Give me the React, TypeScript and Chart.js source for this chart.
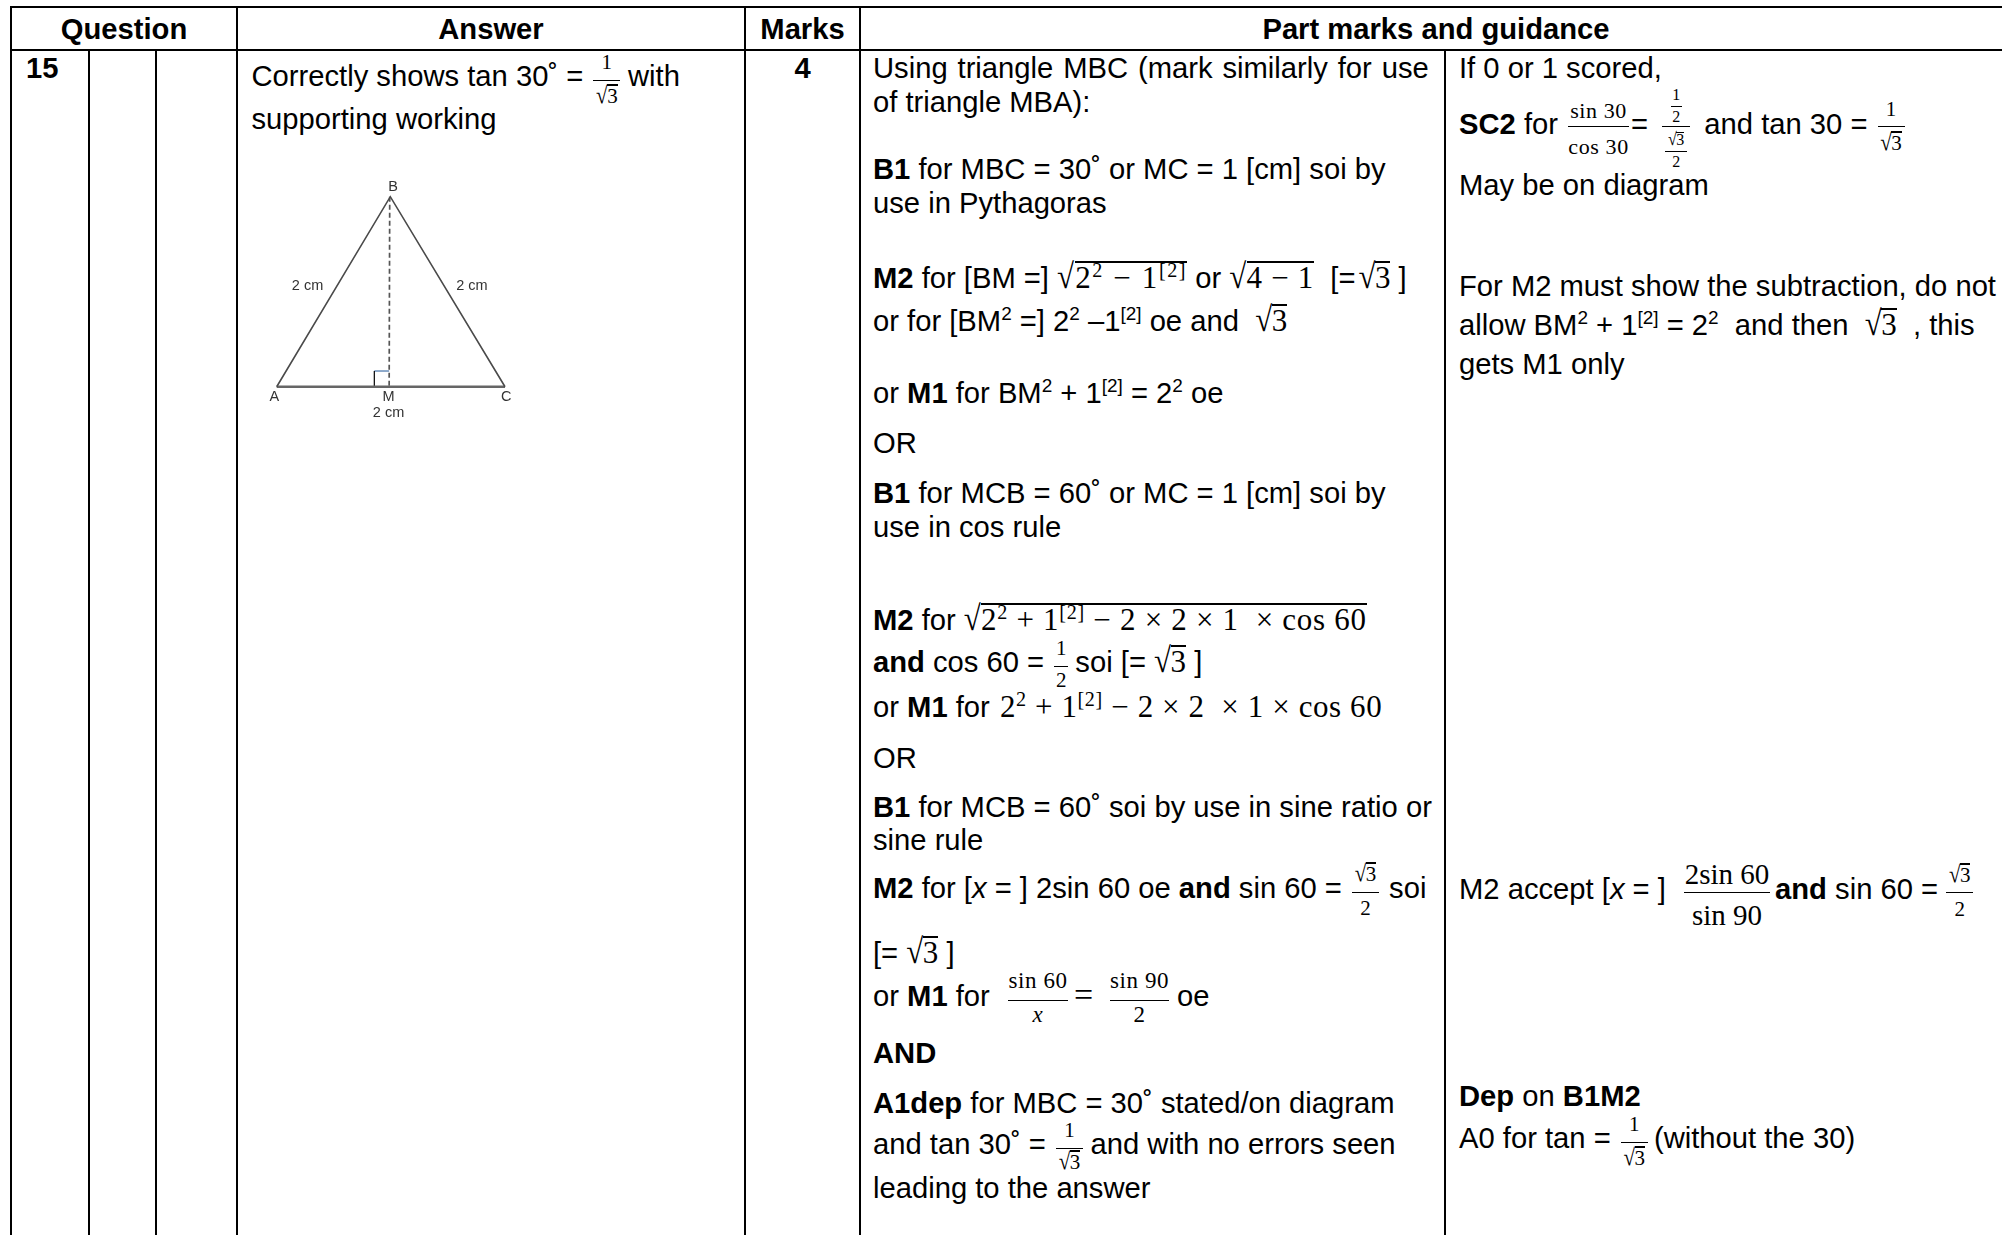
import React, { useEffect, useRef } from "react";
import { Chart, registerables } from "chart.js";
Chart.register(...registerables);

// Triangle diagram data, in centimetres along the base and in height units
const sideX = [0, 0.995, 2];
const sideY = [0, 1.73, 0];
const baseX = [0, 2];
const baseY = [0, 0];
const altitudeX = [0.99, 0.985];
const altitudeY = [1.73, 0];
const markUpX = [0.855, 0.855];
const markUpY = [0, 0.143];
const markTopX = [0.855, 0.985];
const markTopY = [0.143, 0.143];
const pointNames = ["B", "2 cm", "2 cm", "A", "M", "C", "2 cm"];
const pointNameX = [1.02, 0.27, 1.71, -0.02, 0.98, 2.01, 0.98];
const pointNameY = [1.82, 0.92, 0.92, -0.09, -0.09, -0.09, -0.24];

const headers = ["Question", "Answer", "Marks", "Part marks and guidance"];
const headerEdges = [11, 237, 745, 860, 2012];
const columnRules = [11, 89, 156, 237, 745, 860, 1445];

const FONT = "'Liberation Sans', Arial, sans-serif";
const MATH = "'Liberation Serif', serif";
const FS = 29.2;
const TOP = 1 - 0.3465 * FS;

const pts = (xs: number[], ys: number[]) => xs.map((x, i) => ({ x, y: ys[i] }));

const L = ({ x, y, ws = 0, children }: any) => (
  <div style={{ position: "absolute", left: x, top: y + TOP, lineHeight: 0, whiteSpace: "pre", fontSize: FS, wordSpacing: ws }}>{children}</div>
);
const B = ({ children }: any) => <b>{children}</b>;
const Up = ({ children, s = 0.65, r = 0.36 }: any) => (
  <span style={{ fontSize: `${s}em`, position: "relative", top: `${-r / s}em` }}>{children}</span>
);
const M = ({ children, s = 31, ls = 0.6, ml = 0 }: any) => <span style={{ fontFamily: MATH, fontSize: s, letterSpacing: ls, marginLeft: ml }}>{children}</span>;
const Sq = ({ children, s = 31, ls = 0, ml = 0, bar }: any) => {
  const barUp = bar ?? s * 0.88;
  return (
    <span style={{ fontFamily: MATH, fontSize: s, letterSpacing: ls, marginLeft: ml }}>
      <span style={{ display: "inline-block", transformOrigin: "50% 0.3375em", transform: "scaleY(1.13)" }}>√</span>
      <span style={{ display: "inline-block", position: "relative", marginLeft: -0.5 }}>
        <span style={{ position: "absolute", left: 0, right: 0, top: 0.3375 * s - barUp, height: Math.max(1, s / 18), background: "#000" }} />
        {children}
      </span>
    </span>
  );
};
const At = ({ dy, s, ls = 0, children }: any) => (
  <span style={{ position: "absolute", left: -20, right: -20, textAlign: "center", top: dy - 0.3375 * s, fontSize: s, lineHeight: 0, fontFamily: MATH, whiteSpace: "pre", letterSpacing: ls }}>{children}</span>
);
const Fr = ({ n, d, w = 27, s = 21, axis = 6, nDy = -17, dDy = 17, mx = 2, mr, h = 1.6, ls = 0 }: any) => (
  <span style={{ display: "inline-block", position: "relative", width: w, height: 0, marginLeft: mx, marginRight: mr ?? mx }}>
    <span style={{ position: "absolute", left: 0, right: 0, top: -axis, height: h, background: "#000" }} />
    <At dy={nDy} s={s} ls={ls}>{n}</At>
    <At dy={dDy} s={s} ls={ls}>{d}</At>
  </span>
);
const R3 = ({ s = 21 }: any) => <Sq s={s}>3</Sq>;

function Triangle() {
  const ref = useRef<HTMLCanvasElement>(null);
  useEffect(() => {
    const labelPlugin = {
      id: "pointNames",
      afterDatasetsDraw(chart: any) {
        const { ctx, scales } = chart;
        ctx.save();
        ctx.fillStyle = "#333";
        ctx.font = `14.5px ${FONT}`;
        ctx.textAlign = "center";
        ctx.textBaseline = "middle";
        pointNames.forEach((t, i) => ctx.fillText(t, scales.x.getPixelForValue(pointNameX[i]), scales.y.getPixelForValue(pointNameY[i])));
        ctx.restore();
      },
    };
    const line = (data: any[], color: string, width: number, dash: number[] = []) => ({
      data,
      showLine: true,
      borderColor: color,
      borderWidth: width,
      borderDash: dash,
      pointRadius: 0,
      tension: 0,
    });
    const chart = new Chart(ref.current!, {
      type: "scatter",
      data: {
        datasets: [
          line(pts(sideX, sideY), "#4a4a4a", 1.6),
          line(pts(baseX, baseY), "#666", 2.4),
          line(pts(altitudeX, altitudeY), "#555", 1.7, [5, 3]),
          line(pts(markUpX, markUpY), "#000", 1.2),
          line(pts(markTopX, markTopY), "#4472a8", 1.2),
        ],
      },
      options: {
        animation: false,
        responsive: false,
        events: [],
        layout: { padding: 0 },
        plugins: { legend: { display: false }, tooltip: { enabled: false } },
        scales: {
          x: { type: "linear", display: false, min: -0.234, max: 2.394 },
          y: { type: "linear", display: false, min: -0.394, max: 1.973 },
        },
      },
      plugins: [labelPlugin],
    } as any);
    return () => chart.destroy();
  }, []);
  return <canvas ref={ref} width={300} height={260} style={{ position: "absolute", left: 250, top: 170, width: 300, height: 260 }} />;
}

const LX = 873;
const RX = 1459;

export default function App() {
  return (
    <div style={{ position: "absolute", left: 0, top: 0, width: 2002, height: 1235, overflow: "hidden", background: "#fff", fontFamily: FONT, color: "#000" }}>
      <div style={{ position: "absolute", left: 10, right: 0, top: 6, height: 2, background: "#000" }} />
      <div style={{ position: "absolute", left: 10, right: 0, top: 49, height: 2, background: "#000" }} />
      {columnRules.map((x, i) => (
        <div key={x} style={{ position: "absolute", left: x - 1, width: 2, top: i === 1 || i === 2 || i === 6 ? 50 : 6, bottom: 0, background: "#000" }} />
      ))}
      {headers.map((h, i) => (
        <div key={h} style={{ position: "absolute", left: headerEdges[i], width: headerEdges[i + 1] - headerEdges[i], top: 38 + TOP, lineHeight: 0, textAlign: "center", fontWeight: 700, fontSize: FS }}>{h}</div>
      ))}
      <div style={{ position: "absolute", left: 26, top: 77 + TOP, lineHeight: 0, fontWeight: 700, fontSize: FS }}>15</div>
      <div style={{ position: "absolute", left: 745, width: 115, top: 77 + TOP, lineHeight: 0, textAlign: "center", fontWeight: 700, fontSize: FS }}>4</div>

      <L x={251.5} y={85}>Correctly shows tan 30˚ = <Fr n="1" d={<R3 />} w={27} mr={-0.5} /> with</L>
      <L x={251.5} y={128}>supporting working</L>
      <Triangle />

      <L x={LX} y={77} ws={1.8}>Using triangle MBC (mark similarly for use</L>
      <L x={LX} y={111}>of triangle MBA):</L>
      <L x={LX} y={178}><B>B1</B> for MBC = 30˚ or MC = 1 [cm] soi by</L>
      <L x={LX} y={212}>use in Pythagoras</L>
      <L x={LX} y={287}><B>M2</B> for [BM =] <Sq ls={1.6}>2<Up>2</Up> − 1<Up>[2]</Up></Sq> or <Sq ls={0.7}>4 − 1</Sq>  [=<Sq ml={3}>3</Sq> ]</L>
      <L x={LX} y={330}>or for [BM<Up>2</Up> =] 2<Up>2</Up> –1<Up>[2]</Up> oe and  <Sq>3</Sq></L>
      <L x={LX} y={402}>or <B>M1</B> for BM<Up>2</Up> + 1<Up>[2]</Up> = 2<Up>2</Up> oe</L>
      <L x={LX} y={452}>OR</L>
      <L x={LX} y={502}><B>B1</B> for MCB = 60˚ or MC = 1 [cm] soi by</L>
      <L x={LX} y={536}>use in cos rule</L>
      <L x={LX} y={629}><B>M2</B> for <Sq ls={0.7}>2<Up>2</Up> + 1<Up>[2]</Up> − 2 × 2 × 1  × cos 60</Sq></L>
      <L x={LX} y={671}><B>and</B> cos 60 = <Fr n="1" d="2" w={14} mr={-1} dDy={15} /> soi [= <Sq>3</Sq> ]</L>
      <L x={LX} y={716}>or <B>M1</B> for <M ml={2}>2<Up>2</Up> + 1<Up>[2]</Up> − 2 × 2  × 1 × cos 60</M></L>
      <L x={LX} y={767}>OR</L>
      <L x={LX} y={816}><B>B1</B> for MCB = 60˚ soi by use in sine ratio or</L>
      <L x={LX} y={849}>sine rule</L>
      <L x={LX} y={897}><B>M2</B> for [<i>x</i> = ] 2sin 60 oe <B>and</B> sin 60 = <Fr n={<R3 />} d="2" w={27} /> soi</L>
      <L x={LX} y={962}>[= <Sq>3</Sq> ]</L>
      <L x={LX} y={1004}>or <B>M1</B> for  <Fr n="sin 60" d={<i>x</i>} w={60} s={23} ls={0.6} mr={6} /><M s={34}>=</M>  <Fr n="sin 90" d="2" w={59} s={23} ls={0.6} mx={0} /> oe</L>
      <L x={LX} y={1062}><B>AND</B></L>
      <L x={LX} y={1112}><B>A1dep</B> for MBC = 30˚ stated/on diagram</L>
      <L x={LX} y={1153}>and tan 30˚ = <Fr n="1" d={<R3 />} w={27} mr={-0.5} dDy={15} /> and with no errors seen</L>
      <L x={LX} y={1197}>leading to the answer</L>

      <L x={RX} y={77}>If 0 or 1 scored,</L>
      <L x={RX} y={133}><B>SC2</B> for <Fr n="sin 30" d="cos 30" w={61} s={22} ls={0.6} nDy={-15} dDy={21} axis={8} />= <Fr
        w={28} axis={8} mx={6}
        n={<Fr n="1" d="2" w={11} s={16} axis={8} nDy={-13} dDy={9} mx={0} />} nDy={-20}
        d={<Fr n={<R3 s={16} />} d="2" w={22} s={16} axis={8} nDy={-13} dDy={9} mx={0} />} dDy={25}
      /> and tan 30 = <Fr n="1" d={<R3 />} w={27} axis={8} nDy={-18} dDy={16} /></L>
      <L x={RX} y={194}>May be on diagram</L>
      <L x={RX} y={295}>For M2 must show the subtraction, do not</L>
      <L x={RX} y={334}>allow BM<Up>2</Up> + 1<Up>[2]</Up> = 2<Up>2</Up>  and then  <Sq>3</Sq>  , this</L>
      <L x={RX} y={373}>gets M1 only</L>
      <L x={RX} y={898}>M2 accept [<i>x</i> = ]  <Fr n="2sin 60" d="sin 90" w={86} s={29} axis={7} nDy={-15} dDy={26} h={1.2} mr={5} /><B>and</B> sin 60 = <Fr n={<R3 />} d="2" w={27} axis={7} nDy={-17} dDy={17} mx={0} /></L>
      <L x={RX} y={1105}><B>Dep</B> on <B>B1M2</B></L>
      <L x={RX} y={1147}>A0 for tan = <Fr n="1" d={<R3 />} w={27} mr={-2} /> (without the 30)</L>
    </div>
  );
}
